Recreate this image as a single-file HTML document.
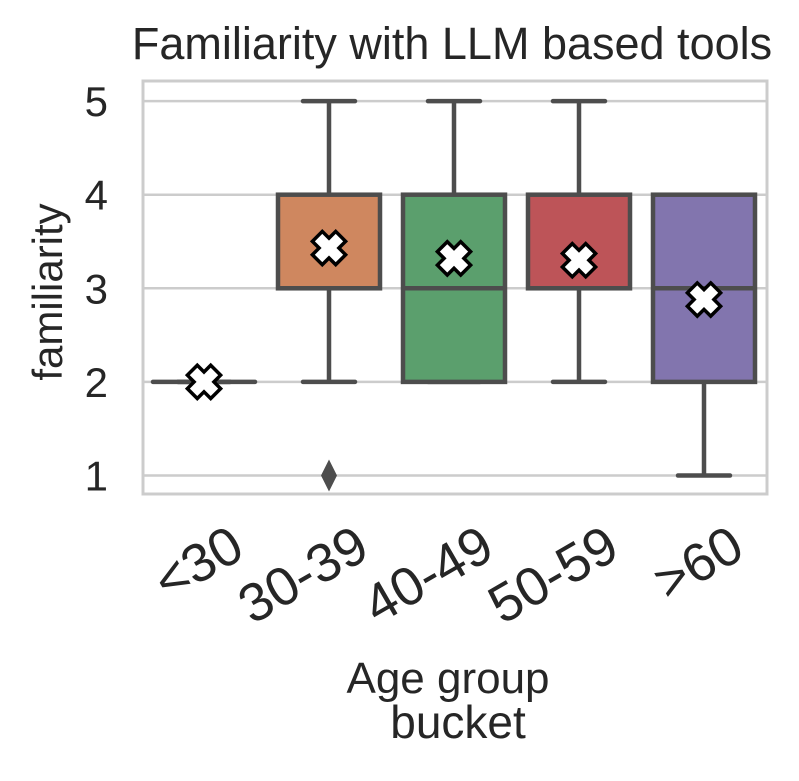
<!DOCTYPE html>
<html><head><meta charset="utf-8"><style>
body{margin:0;background:#fff;}
svg text{font-family:"Liberation Sans",Arial,sans-serif;fill:#262626;}
</style></head><body>
<svg id="chart" width="799" height="776" viewBox="0 0 799 776">
<rect width="799" height="776" fill="#fff"/>
<text x="452" y="59" font-size="45" text-anchor="middle">Familiarity with LLM based tools</text>
<g id="grid"></g>
<g id="boxes"></g>
<rect x="143" y="81" width="624" height="413" fill="none" stroke="#cccccc" stroke-width="3"/>
<g id="yticks"></g>
<g id="xticks"></g>
<text transform="translate(62,292) rotate(-90)" font-size="42" text-anchor="middle">familiarity</text>
<text x="448" y="693" font-size="44" text-anchor="middle">Age group</text>
<text x="458" y="738" font-size="46" text-anchor="middle">bucket</text>
</svg>
<script>
const categories=["<30","30-39","40-49","50-59",">60"];
const q1=[2,3,2,3,2];
const medians=[2,3,3,3,3];
const q3=[2,4,4,4,4];
const whiskLo=[2,2,2,2,1];
const whiskHi=[2,5,5,5,4];
const means=[2.0,3.43,3.32,3.30,2.88];
const outliers=[[],[1],[],[],[]];
const colors=["#5875a4","#cf875f","#5b9f6d","#bd5458","#8275ae"];
const yTicks=[1,2,3,4,5];
const NS="http://www.w3.org/2000/svg";
function y(v){return 475.5-(v-1)*93.6;}
function x(i){return 204+i*125;}
function mk(tag,attrs,parent){const e=document.createElementNS(NS,tag);for(const k in attrs)e.setAttribute(k,attrs[k]);parent.appendChild(e);return e;}
const grid=document.getElementById('grid'),boxes=document.getElementById('boxes'),yt=document.getElementById('yticks'),xt=document.getElementById('xticks');
yTicks.forEach(t=>{
 const l=mk('line',{x1:143,x2:767,y1:y(t),y2:y(t),stroke:'#cccccc','stroke-width':2.5},grid);
 
 
 const tx=mk('text',{x:108,y:y(t)+15,'font-size':42,'text-anchor':'end'},yt);
 tx.textContent=t;
 
 
});
const S='#4d4d4d',bw=102,cw=52;
categories.forEach((c,i)=>{
 const cx=x(i);
 const g=mk('g',{},boxes);
 
 
 mk('line',{x1:cx,x2:cx,y1:y(whiskHi[i]),y2:y(q3[i]),stroke:S,'stroke-width':4.5},g);
 mk('line',{x1:cx,x2:cx,y1:y(q1[i]),y2:y(whiskLo[i]),stroke:S,'stroke-width':4.5},g);
 mk('line',{x1:cx-cw/2,x2:cx+cw/2,y1:y(whiskHi[i]),y2:y(whiskHi[i]),stroke:S,'stroke-width':4.5,'stroke-linecap':'round'},g);
 mk('line',{x1:cx-cw/2,x2:cx+cw/2,y1:y(whiskLo[i]),y2:y(whiskLo[i]),stroke:S,'stroke-width':4.5,'stroke-linecap':'round'},g);
 if(q3[i]>q1[i]) mk('rect',{x:cx-bw/2,y:y(q3[i]),width:bw,height:y(q1[i])-y(q3[i]),fill:colors[i],stroke:S,'stroke-width':4.5},g);
 mk('line',{x1:cx-bw/2,x2:cx+bw/2,y1:y(medians[i]),y2:y(medians[i]),stroke:S,'stroke-width':4.5,'stroke-linecap':q3[i]>q1[i]?'butt':'round'},g);
 outliers[i].forEach(o=>{
  const d=mk('path',{d:`M${cx} ${y(o)-16}L${cx+8} ${y(o)}L${cx} ${y(o)+16}L${cx-8} ${y(o)}Z`,fill:S},g);
  
  
 });
 const my=y(means[i]),a=7,b=16.5;
 const pts=[[-a,-b],[a,-b],[a,-a],[b,-a],[b,a],[a,a],[a,b],[-a,b],[-a,a],[-b,a],[-b,-a],[-a,-a]].map(p=>{const r=Math.SQRT1_2;return [cx+(p[0]-p[1])*r,my+(p[0]+p[1])*r].join(',');}).join(' ');
 const m=mk('polygon',{points:pts,fill:'#fff',stroke:'#000','stroke-width':3.5,'stroke-linejoin':'miter'},g);
 
 
 const tx=mk('text',{x:0,y:0,'font-size':54,'text-anchor':'end',transform:`translate(${cx+43},${556}) rotate(-30)`},xt);
 tx.textContent=c;
 
 
});
</script>
</body></html>
